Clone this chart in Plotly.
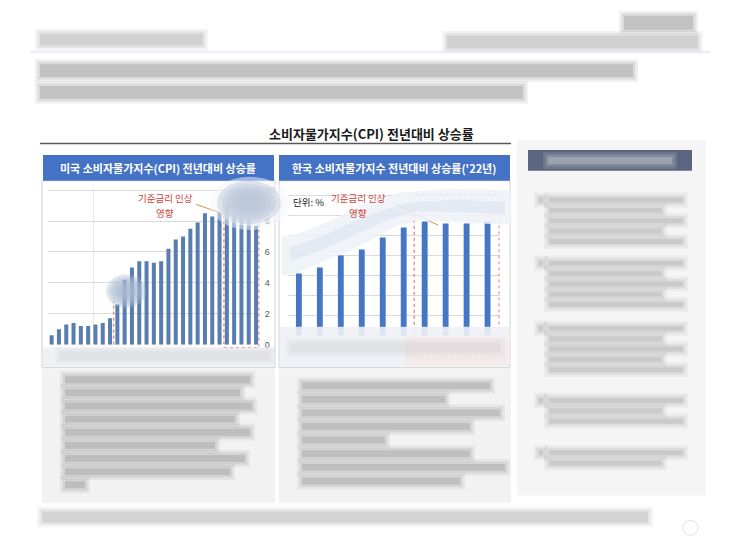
import plotly.graph_objects as go

W, H = 743, 557

# ---------------- data ----------------
us_months = ["20.06", "20.07", "20.08", "20.09", "20.10", "20.11", "20.12",
             "21.01", "21.02", "21.03", "21.04", "21.05", "21.06", "21.07",
             "21.08", "21.09", "21.10", "21.11", "21.12", "22.01", "22.02",
             "22.03", "22.04", "22.05", "22.06", "22.07", "22.08", "22.09", "22.10"]
us_cpi = [0.6, 1.0, 1.3, 1.4, 1.2, 1.2, 1.3, 1.4, 1.7, 2.6, 4.2, 5.0, 5.4, 5.4,
          5.3, 5.4, 6.2, 6.8, 7.0, 7.5, 7.9, 8.5, 8.3, 8.6, 9.1, 8.5, 8.3, 8.2, 7.7]
us_ticks = [0, 2, 4, 6, 8, 10]

kr_months = ["1월", "2월", "3월", "4월", "5월", "6월", "7월", "8월", "9월", "10월"]
kr_cpi = [3.1, 3.4, 4.0, 4.3, 4.9, 5.4, 5.7, 5.6, 5.6, 5.7]

main_title = "소비자물가지수(CPI) 전년대비 상승률"
us_title = "미국 소비자물가지수(CPI) 전년대비 상승률"
kr_title = "한국 소비자물가지수 전년대비 상승률('22년)"
note_line1 = "기준금리 인상"
note_line2 = "영향"
unit_text = "단위: %"

FONT = "Noto Sans CJK KR"


def px(x):
    return x / W


def py(y):
    return 1 - y / H


fig = go.Figure()
fig.add_trace(go.Bar(x=us_months, y=us_cpi, marker_color="#5a7db0",
                     marker_line_width=0, xaxis="x", yaxis="y", showlegend=False))
fig.add_trace(go.Bar(x=kr_months, y=kr_cpi, marker_color="#4677c4",
                     marker_line_width=0, xaxis="x2", yaxis="y2", showlegend=False,
                     width=0.28))

shapes = []
annotations = []


def text(s, x, y, size, color, weight="normal"):
    annotations.append(dict(text=s, xref="paper", yref="paper", x=px(x), y=py(y),
                            xanchor="center", yanchor="middle", showarrow=False,
                            font=dict(family=FONT, size=size, color=color, weight=weight)))


def rect(x0, y0, x1, y1, fill, line=None, lw=0, layer="below"):
    shapes.append(dict(type="rect", xref="paper", yref="paper",
                       x0=px(x0), x1=px(x1), y0=py(y1), y1=py(y0),
                       fillcolor=fill, layer=layer,
                       line=dict(width=lw, color=line or "rgba(0,0,0,0)")))


def smudge(x0, y0, x1, y1, g=150, a=0.3, layer="above"):
    # blurred text line
    for k, aa in enumerate([a * 0.3, a * 0.45, a * 0.7]):
        e = (2 - k) * 2.5
        rect(x0 - e, y0 - e, x1 + e, y1 + e, f"rgba({g},{g},{g},{aa})", layer=layer)


def blob(cx, cy, rx, ry, rgb, a, n=5, layer="above"):
    for k in range(n):
        s = 1.0 - k * 0.16
        shapes.append(dict(type="circle", xref="paper", yref="paper",
                           x0=px(cx - rx * s), x1=px(cx + rx * s),
                           y0=py(cy + ry * s), y1=py(cy - ry * s),
                           fillcolor=f"rgba({rgb},{a})", line=dict(width=0), layer=layer))


def path(points, fill, layer="above"):
    d = "M " + " L ".join(f"{px(x):.5f},{py(y):.5f}" for x, y in points) + " Z"
    shapes.append(dict(type="path", xref="paper", yref="paper", path=d,
                       fillcolor=fill, line=dict(width=0), layer=layer))


# ---------- page header (blurred) ----------
smudge(40, 32, 203, 44, g=150, a=0.35)
smudge(447, 34, 698, 47, g=150, a=0.35)
smudge(624, 14, 693, 28, g=130, a=0.4)
rect(30, 49, 710, 52, "rgba(220,228,236,0.5)", layer="above")
smudge(40, 63, 633, 76, g=130, a=0.4)
smudge(40, 85, 523, 98, g=130, a=0.4)

# ---------- main title ----------
text(main_title, 372, 133, 13, "#1a1a1a", "bold")
rect(40, 142.5, 511, 144, "#595959", layer="below")

# ---------- panels ----------
rect(42, 181, 275, 370, "white", line="#d0d0d0", lw=1)
rect(279, 181, 510, 370, "white", line="#d0d0d0", lw=1)
rect(43, 155, 274, 181, "#4472c4")
rect(279, 155, 510, 181, "#4472c4")
text(us_title, 158, 168, 11, "white", "bold")
text(kr_title, 394, 168, 11, "white", "bold")

# faint vertical line in US chart
rect(93, 188, 93.6, 347, "rgba(200,200,200,0.7)")

# ---------- lower text areas ----------
rect(42, 371, 275, 507, "#f2f2f2")
rect(279, 371, 511, 507, "#f2f2f2")
for i in range(9):
    y = 379 + i * 13.3
    x1 = [250, 240, 252, 235, 250, 215, 245, 230, 85][i]
    smudge(65, y, x1, y + 7, g=120, a=0.35)
for i in range(8):
    y = 385 + i * 13.8
    x1 = [490, 445, 500, 470, 385, 470, 505, 460][i]
    smudge(302, y, x1, y + 7, g=120, a=0.33)
smudge(42, 516, 648, 527, g=140, a=0.3)

# ---------- right sidebar ----------
rect(517, 140, 706, 500, "#f5f5f5")
rect(528, 150, 692, 171, "#5a6680")
smudge(548, 157, 672, 164, g=215, a=0.45)
blocks = [(198, 5), (262, 5), (328, 5), (401, 3), (454, 2)]
for y0, nlines in blocks:
    smudge(539, y0, 543, y0 + 5, g=130, a=0.3)
    for j in range(nlines):
        x1 = 683 if j % 2 == 0 else 662
        smudge(549, y0 + j * 10.5, x1, y0 + j * 10.5 + 5, g=130, a=0.28)

# bottom right circle
shapes.append(dict(type="circle", xref="paper", yref="paper",
                   x0=px(683), x1=px(698), y0=py(540), y1=py(525),
                   line=dict(color="rgba(205,205,205,0.6)", width=1)))

# ---------- red dashed guides (category coords) ----------
RED = "#d95f5f"
shapes.append(dict(type="line", xref="x", yref="paper", x0=8.5, x1=8.5,
                   y0=py(347), y1=py(303), line=dict(color=RED, width=1, dash="dot")))
shapes.append(dict(type="rect", xref="x", yref="paper", x0=23.6, x1=28.4,
                   y0=py(350), y1=py(200), line=dict(color=RED, width=1, dash="dot")))
shapes.append(dict(type="rect", xref="x2", yref="paper", x0=5.5, x1=9.55,
                   y0=py(362), y1=py(195), line=dict(color=RED, width=1, dash="dot")))

# leader lines
shapes.append(dict(type="line", xref="paper", yref="paper", x0=px(196), y0=py(205),
                   x1=px(222), y1=py(214), line=dict(color="#c8964a", width=1)))
shapes.append(dict(type="line", xref="paper", yref="paper", x0=px(392), y0=py(203),
                   x1=px(438), y1=py(226), line=dict(color="#c8964a", width=1)))

# notes
text(note_line1, 165, 198.5, 9.5, "#d0423a")
text(note_line2, 165, 213.5, 9.5, "#d0423a")
text(note_line1, 358, 198.5, 9.5, "#d0423a")
text(note_line2, 358, 213.5, 9.5, "#d0423a")
text(unit_text, 308, 203, 9.5, "#222")

# ---------- blur clouds ----------
blob(250, 204, 40, 27, "244,246,250", 0.5)
blob(249, 203, 32, 22, "185,198,218", 0.42)
blob(126, 293, 20, 17, "170,185,210", 0.35)
path([(282, 238), (300, 234), (330, 222), (360, 206), (400, 193), (450, 189), (510, 191),
      (512, 226), (460, 223), (420, 221), (398, 226), (370, 242), (340, 256),
      (310, 268), (290, 277), (282, 277)], "rgba(238,242,248,0.88)")
path([(290, 248), (320, 238), (350, 224), (380, 212), (410, 203), (460, 200), (505, 203),
      (505, 215), (460, 213), (415, 212), (385, 222), (350, 238), (320, 252), (290, 262)],
     "rgba(210,220,235,0.4)")
# bottom blurred axis labels
rect(43, 350, 274, 369, "rgba(238,240,244,0.9)", layer="above")
smudge(60, 354, 270, 362, g=200, a=0.3)
rect(280, 329, 509, 369, "rgba(238,241,246,0.9)", layer="above")
rect(405, 340, 508, 368, "rgba(245,225,225,0.5)", layer="above")
smudge(290, 345, 500, 355, g=205, a=0.3)

# ---------- layout ----------
fig.update_layout(
    width=W, height=H, autosize=False,
    margin=dict(l=0, r=0, t=0, b=0),
    paper_bgcolor="white", plot_bgcolor="rgba(0,0,0,0)",
    bargap=0.45,
    shapes=shapes, annotations=annotations,
    font=dict(family=FONT),
    xaxis=dict(domain=[px(48), px(259.7)], type="category", showticklabels=False,
               showgrid=False, zeroline=False, showline=False),
    yaxis=dict(domain=[py(347), py(187.4)], range=[0, 10.2], side="right",
               anchor="x", tickvals=us_ticks, showgrid=True, gridcolor="#dadada",
               gridwidth=1, zeroline=False, ticks="", ticklabelstandoff=4,
               tickfont=dict(size=9, color="#595959", family="Liberation Sans")),
    xaxis2=dict(domain=[px(288.4), px(499.6)], type="category", showticklabels=False,
                showgrid=False, zeroline=False, showline=False, anchor="y2"),
    yaxis2=dict(domain=[py(338), py(191.8)], range=[0, 7.2], anchor="x2",
                dtick=1, showgrid=True, gridcolor="#dadada", showticklabels=False,
                zeroline=False, ticks=""),
)

fig.write_html("out.html", config={"displayModeBar": False},
               post_script="document.body.style.margin='0';")
